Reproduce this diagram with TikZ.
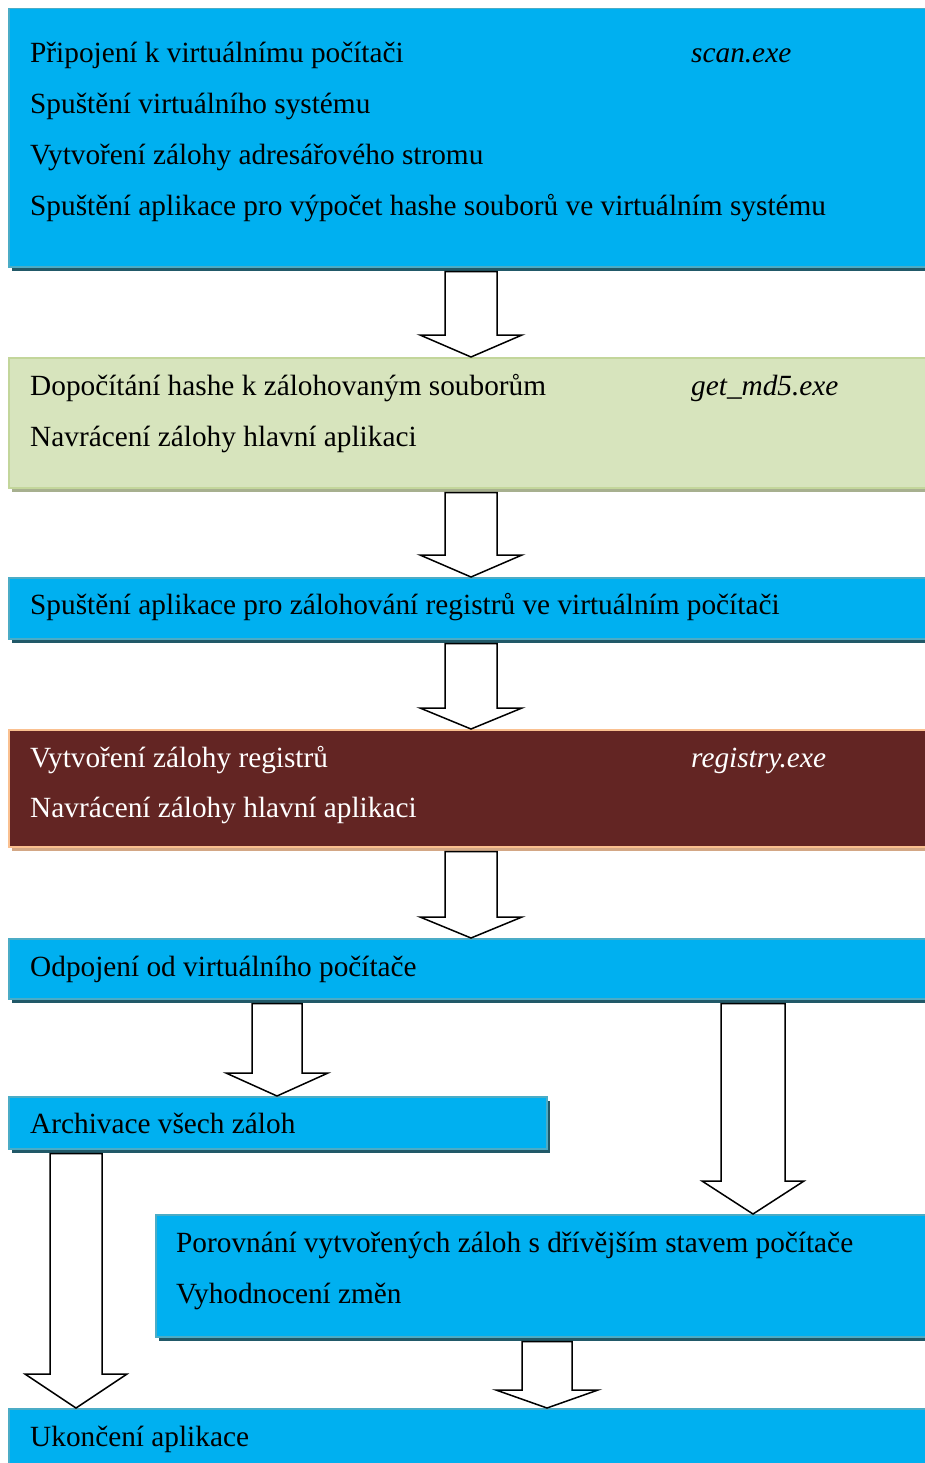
\documentclass[tikz,border=0pt]{standalone}
\usepackage{fontspec}
\setmainfont{Liberation Serif}
\usetikzlibrary{calc,shadows}

\definecolor{modra}{HTML}{00B0F0}
\definecolor{modraokraj}{HTML}{4BACC6}
\definecolor{modrastin}{HTML}{215968}
\definecolor{zelena}{HTML}{D7E4BD}
\definecolor{zelenaokraj}{HTML}{C3D69B}
\definecolor{zelenastin}{HTML}{A7B08F}
\definecolor{hneda}{HTML}{632523}
\definecolor{hnedaokraj}{HTML}{FAC090}
\definecolor{hnedastin}{HTML}{D3A785}

\tikzset{
  krok/.style={rectangle, anchor=north west, inner sep=0pt, line width=1.5pt},
  modry/.style={krok, fill=modra, draw=modraokraj,
    drop shadow={shadow xshift=3pt, shadow yshift=-4pt, fill=modrastin, opacity=1}},
  zeleny/.style={krok, fill=zelena, draw=zelenaokraj,
    drop shadow={shadow xshift=3pt, shadow yshift=-4pt, fill=zelenastin, opacity=1}},
  hnedy/.style={krok, fill=hneda, draw=hnedaokraj,
    drop shadow={shadow xshift=3pt, shadow yshift=-4pt, fill=hnedastin, opacity=1}},
  popis/.style={anchor=base west, inner sep=0pt, font=\fontsize{29.3}{34}\selectfont},
  program/.style={popis, font=\fontsize{29.3}{34}\selectfont\itshape},
  sipka/.style={draw=black, fill=white, line width=1.5pt, line join=miter},
}

% blokova sipka: odkud, kam, pul sirky drieku, pul sirky hrotu, delka hrotu
\newcommand{\blokSipka}[5]{%
  \draw[sipka] let \p1=(#1), \p2=(#2) in
    (\x1-#3,\y1) -- (\x1-#3,\y2+#5) -- (\x1-#4,\y2+#5) -- (\x1,\y2)
    -- (\x1+#4,\y2+#5) -- (\x1+#3,\y2+#5) -- (\x1+#3,\y1) -- cycle;}

\begin{document}
\begin{tikzpicture}[x=1pt, y=-1pt]
        \useasboundingbox (0,0) rectangle (925,1463);
        \clip (0,0) rectangle (925,1463);

        % Bloky
        \node[modry, minimum width=952pt, minimum height=258pt] (b1) at (8,8) {};
        \node[zeleny, minimum width=952pt, minimum height=130pt] (b2) at (8,357) {};
        \node[modry, minimum width=952pt, minimum height=61pt] (b3) at (8,577) {};
        \node[hnedy, minimum width=952pt, minimum height=117pt] (b4) at (8,729) {};
        \node[modry, minimum width=952pt, minimum height=60pt] (b5) at (8,938) {};
        \node[modry, minimum width=538pt, minimum height=52pt] (b6) at (8,1096) {};
        \node[modry, minimum width=805pt, minimum height=122pt] (b7) at (155,1214) {};
        \node[modry, minimum width=952pt, minimum height=80pt] (b8) at (8,1408) {};

        % Texty v blocich
        \node[popis] (t11) at (30,63) {Připojení k virtuálnímu počítači};
        \node[program] (p1) at (691,63) {scan.exe};
        \node[popis] (t12) at (30,114) {Spuštění virtuálního systému};
        \node[popis] (t13) at (30,165) {Vytvoření zálohy adresářového stromu};
        \node[popis] (t14) at (30,216) {Spuštění aplikace pro výpočet hashe souborů ve virtuálním systému};

        \node[popis] (t21) at (30,395) {Dopočítání hashe k zálohovaným souborům};
        \node[program] (p2) at (691,395) {get\_md5.exe};
        \node[popis] (t22) at (30,446) {Navrácení zálohy hlavní aplikaci};

        \node[popis] (t31) at (30,614) {Spuštění aplikace pro zálohování registrů ve virtuálním počítači};

        \node[popis, text=white] (t41) at (30,767) {Vytvoření zálohy registrů};
        \node[program, text=white] (p4) at (691,767) {registry.exe};
        \node[popis, text=white] (t42) at (30,817) {Navrácení zálohy hlavní aplikaci};

        \node[popis] (t51) at (30,976) {Odpojení od virtuálního počítače};
        \node[popis] (t61) at (30,1133) {Archivace všech záloh};
        \node[popis] (t71) at (176,1252) {Porovnání vytvořených záloh s dřívějším stavem počítače};
        \node[popis] (t72) at (176,1303) {Vyhodnocení změn};
        \node[popis] (t81) at (30,1446) {Ukončení aplikace};

        % Sipky mezi bloky
        \coordinate (s1) at ($(b1.south west)+(463,4)$);
        \coordinate (s2) at ($(b2.south west)+(463,4)$);
        \coordinate (s3) at ($(b3.south west)+(463,4)$);
        \coordinate (s4) at ($(b4.south west)+(463,4)$);
        \coordinate (s5a) at ($(b5.south west)+(269,4)$);
        \coordinate (s5b) at ($(b5.south west)+(745,4)$);
        \coordinate (s6) at ($(b6.south west)+(68,4)$);
        \coordinate (s7) at ($(b7.south west)+(392,4)$);

        \blokSipka{s1}{b2.north}{26pt}{51pt}{22pt}
        \blokSipka{s2}{b3.north}{26pt}{51pt}{22pt}
        \blokSipka{s3}{b4.north}{26pt}{51pt}{21pt}
        \blokSipka{s4}{b5.north}{26pt}{51pt}{21pt}
        \blokSipka{s5a}{b6.north}{25pt}{51pt}{23pt}
        \blokSipka{s5b}{b7.north}{32pt}{51pt}{33pt}
        \blokSipka{s6}{b8.north}{26pt}{51pt}{34pt}
        \blokSipka{s7}{b8.north}{25pt}{51pt}{18pt}

\end{tikzpicture}
\end{document}
